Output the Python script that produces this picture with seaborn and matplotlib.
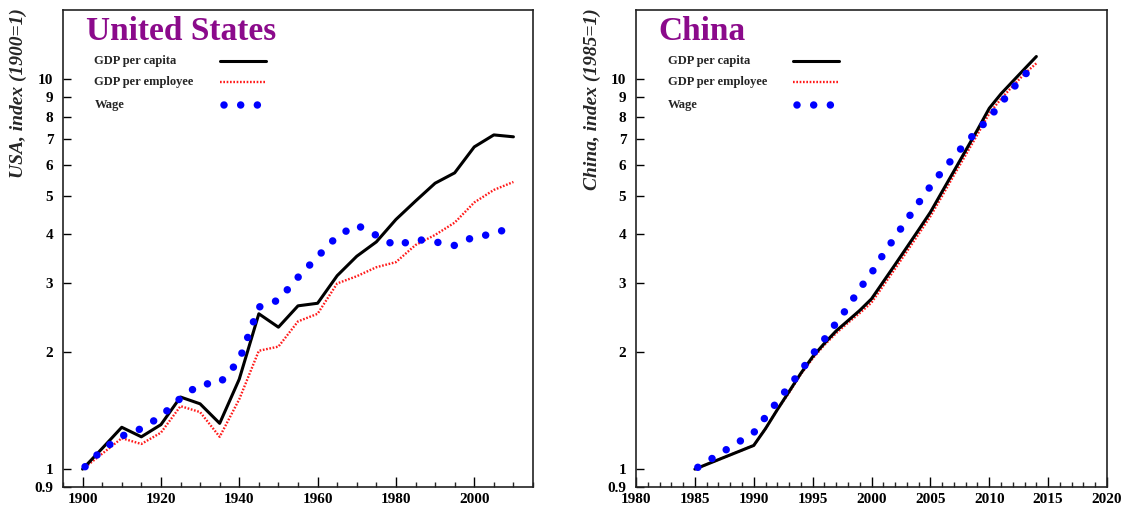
import matplotlib
matplotlib.use("Agg")
import matplotlib.pyplot as plt
import seaborn as sns
import pandas as pd
from matplotlib.lines import Line2D

# ---------------- data ----------------
# United States, index 1900 = 1
us_years = [1900, 1905, 1910, 1915, 1920, 1925, 1930, 1935, 1940, 1945, 1950,
            1955, 1960, 1965, 1970, 1975, 1980, 1985, 1990, 1995, 2000, 2005, 2010]
us_gdp_capita = [1.00, 1.13, 1.28, 1.21, 1.30, 1.53, 1.47, 1.31, 1.70, 2.50, 2.31,
                 2.62, 2.66, 3.13, 3.51, 3.82, 4.36, 4.86, 5.40, 5.74, 6.69, 7.18, 7.10]
us_gdp_employee = [1.00, 1.095, 1.20, 1.16, 1.24, 1.45, 1.40, 1.21, 1.51, 2.01, 2.06,
                   2.39, 2.50, 2.99, 3.12, 3.29, 3.39, 3.75, 3.98, 4.28, 4.82, 5.19, 5.44]
us_wage_years = [1900, 1905, 1910, 1915, 1920, 1925, 1930, 1935, 1940, 1945, 1950,
                 1955, 1960, 1965, 1970, 1975, 1980, 1985, 1990, 1995, 2000, 2005, 2010]
us_wage = [1.00, 1.12, 1.215, 1.27, 1.365, 1.52, 1.65, 1.66, 1.90, 2.60, 2.71,
           3.10, 3.50, 3.95, 4.22, 3.97, 3.73, 3.88, 3.82, 3.74, 3.94, 4.00, 4.20]

# China, index 1985 = 1
cn_years = [1985, 1990, 1991, 1992, 1993, 1994, 1995, 1996, 1997, 1998, 1999, 2000,
            2001, 2002, 2003, 2004, 2005, 2006, 2007, 2008, 2009, 2010, 2011, 2012,
            2013, 2014]
cn_gdp_capita = [1.00, 1.15, 1.27, 1.42, 1.58, 1.76, 1.94, 2.10, 2.26, 2.40, 2.55, 2.73,
                 3.02, 3.34, 3.70, 4.10, 4.55, 5.14, 5.80, 6.55, 7.40, 8.40, 9.15, 9.85,
                 10.6, 11.4]
cn_gdp_employee = [1.00, 1.15, 1.27, 1.42, 1.57, 1.75, 1.92, 2.08, 2.23, 2.37, 2.51, 2.67,
                   2.95, 3.26, 3.61, 4.00, 4.44, 5.01, 5.66, 6.38, 7.20, 8.15, 8.88, 9.58,
                   10.3, 10.95]
cn_wage = [1.00, 1.24, 1.36, 1.49, 1.63, 1.78, 1.97, 2.15, 2.37, 2.60, 2.90, 3.18,
           3.55, 3.93, 4.35, 4.81, 5.30, 5.80, 6.30, 6.85, 7.35, 7.95, 8.65, 9.45,
           10.2, 11.1]

series_labels = ["GDP per capita", "GDP per employee", "Wage"]
y_ticks = [0.9, 1, 2, 3, 4, 5, 6, 7, 8, 9, 10]
y_tick_labels = ["0.9", "1", "2", "3", "4", "5", "6", "7", "8", "9", "10"]

# ---------------- style ----------------
sns.set_theme(style="white")
plt.rcParams["font.family"] = ["Liberation Serif", "DejaVu Serif"]
plt.rcParams["font.weight"] = "bold"
plt.rcParams["lines.scale_dashes"] = False

TITLE_COLOR = "#8b0a8b"
RED_DOTS = (0, (1.2, 1.2))
WAGE_DOTS = (9.5, (0.01, 12.0))

fig = plt.figure(figsize=(11.23, 5.08), dpi=100)
ax_us = fig.add_axes([63 / 1123, 21 / 508, 470 / 1123, 477 / 508])
ax_cn = fig.add_axes([636 / 1123, 21 / 508, 471 / 1123, 477 / 508])


def draw_panel(ax, years, capita, employee, wage_years, wage):
    df = pd.DataFrame({"year": years, "capita": capita, "employee": employee})
    dw = pd.DataFrame({"year": wage_years, "wage": wage})
    sns.lineplot(data=df, x="year", y="employee", ax=ax, color="#ff1a1a",
                 linewidth=1.7, linestyle=RED_DOTS, estimator=None, sort=False)
    sns.lineplot(data=df, x="year", y="capita", ax=ax, color="black",
                 linewidth=2.2, estimator=None, sort=False)
    sns.lineplot(data=dw, x="year", y="wage", ax=ax, color="#0000ff",
                 linewidth=5.4, linestyle=WAGE_DOTS, dash_capstyle="round",
                 estimator=None, sort=False)


def style_panel(ax, title, ylabel, xlim, xmajor, xminor, label_x):
    ax.set_yscale("log")
    ax.set_ylim(0.9, 15)
    ax.set_xlim(*xlim)
    ax.set_yticks(y_ticks)
    ax.set_yticklabels(y_tick_labels)
    ax.yaxis.set_minor_locator(matplotlib.ticker.NullLocator())
    ax.set_xticks(xmajor)
    ax.set_xticklabels([str(v) for v in xmajor])
    ax.set_xticks(xminor, minor=True)
    ax.tick_params(axis="y", which="major", direction="in", length=6, width=1.0,
                   pad=7, labelsize=11, colors="black", left=True)
    ax.tick_params(axis="x", which="major", direction="in", length=7.5, width=1.0,
                   pad=4, labelsize=11, colors="black", bottom=True)
    ax.tick_params(axis="x", which="minor", direction="in", length=3.8, width=1.0,
                   bottom=True)
    for lab in ax.get_xticklabels() + ax.get_yticklabels():
        lab.set_fontweight("bold")
    for sp in ax.spines.values():
        sp.set_color("#222222")
        sp.set_linewidth(1.2)
    ax.set_xlabel("")
    ax.set_ylabel(ylabel, fontsize=14, fontweight="bold", fontstyle="italic",
                  loc="top")
    ax.yaxis.set_label_coords(label_x, 1.004)
    ax.text(0.048, 0.937, title, transform=ax.transAxes, fontsize=24,
            fontweight="bold", color=TITLE_COLOR, ha="left", va="baseline")

    # legend: label on the left, line sample on the right
    rows = [0.893, 0.849, 0.801]
    tx, h0, h1 = 0.067, 0.334, 0.432
    for lab, yy in zip(series_labels, rows):
        ax.text(tx, yy, lab, transform=ax.transAxes, fontsize=9,
                fontweight="bold", ha="left", va="center")
    ax.add_line(Line2D([h0, h1], [rows[0]] * 2, transform=ax.transAxes,
                       color="black", linewidth=2.2))
    ax.add_line(Line2D([h0, h1], [rows[1]] * 2, transform=ax.transAxes,
                       color="#ff1a1a", linewidth=1.7, linestyle=RED_DOTS))
    ax.add_line(Line2D([h0 + 0.008, h0 + 0.08], [rows[2]] * 2, transform=ax.transAxes,
                       color="#0000ff", linewidth=5.4, linestyle=(0, (0.01, 12.0)),
                       dash_capstyle="round"))


draw_panel(ax_us, us_years, us_gdp_capita, us_gdp_employee, us_wage_years, us_wage)
style_panel(ax_us, "United States", "USA, index (1900=1)", (1895, 2015),
            list(range(1900, 2001, 20)), list(range(1895, 2016, 5)), -0.077)

draw_panel(ax_cn, cn_years, cn_gdp_capita, cn_gdp_employee, cn_years, cn_wage)
style_panel(ax_cn, "China", "China, index (1985=1)", (1980, 2020),
            list(range(1980, 2021, 5)), list(range(1980, 2021, 1)), -0.074)

fig.savefig("out.png", dpi=100, facecolor="white")
